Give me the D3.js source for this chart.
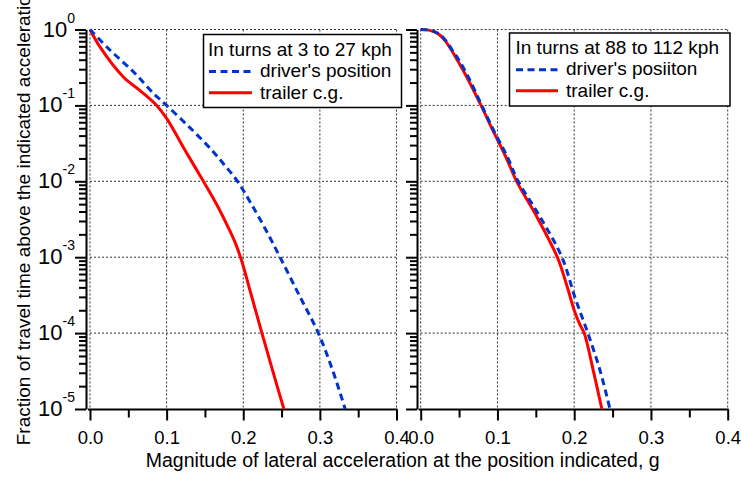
<!DOCTYPE html>
<html><head><meta charset="utf-8">
<script src="https://cdn.jsdelivr.net/npm/d3@7"></script>
<style>
html,body{margin:0;padding:0;background:#fff;}
svg{display:block;font-family:"Liberation Sans",Arial,sans-serif;}
</style></head>
<body><svg id="c" width="741" height="477"></svg>
<script>
// ---------- data ----------
const xTicks = [0, 0.1, 0.2, 0.3, 0.4];
const xMinorTicks = [0.05, 0.15, 0.25, 0.35];
const yTicks = [1, 1e-1, 1e-2, 1e-3, 1e-4, 1e-5];
const yTickExponents = ["0", "-1", "-2", "-3", "-4", "-5"];

// left panel: turns at 3 to 27 kph
const lowG_driver = [0, 0.026, 0.057, 0.083, 0.1, 0.13, 0.159, 0.176, 0.1925, 0.21, 0.229, 0.248, 0.273, 0.298, 0.317, 0.333];
const lowV_driver = [1, 0.537, 0.275, 0.143, 0.1, 0.0513, 0.0257, 0.0162, 0.01, 0.00513, 0.00234, 0.001, 3.16e-4, 1e-4, 3.16e-5, 1e-5];
const lowG_trailer = [0, 0.013, 0.0435, 0.065, 0.087, 0.1, 0.124, 0.148, 0.165, 0.18, 0.19, 0.198, 0.21, 0.223, 0.238, 0.253];
const lowV_trailer = [1, 0.589, 0.237, 0.158, 0.1, 0.0676, 0.0257, 0.01, 0.00501, 0.00251, 0.00151, 8.9e-4, 3.3e-4, 1.12e-4, 3.3e-5, 1e-5];

// right panel: turns at 88 to 112 kph
const highG_driver = [0, 0.009, 0.017, 0.025, 0.033, 0.041, 0.049, 0.062, 0.0795, 0.096, 0.113, 0.127, 0.155, 0.184, 0.201, 0.2178, 0.2336, 0.2466];
const highV_driver = [1, 0.9886, 0.944, 0.861, 0.708, 0.537, 0.407, 0.237, 0.1, 0.0447, 0.0209, 0.01, 0.00347, 0.001, 2.95e-4, 1e-4, 3.24e-5, 1e-5];
const highG_trailer = [0, 0.008, 0.016, 0.024, 0.032, 0.04, 0.047, 0.06, 0.0786, 0.095, 0.111, 0.125, 0.152, 0.178, 0.19, 0.2, 0.207, 0.213, 0.225, 0.236];
const highV_trailer = [1, 0.9886, 0.944, 0.861, 0.708, 0.537, 0.407, 0.237, 0.1, 0.0447, 0.0209, 0.01, 0.00331, 0.001, 4.37e-4, 2e-4, 1.32e-4, 1e-4, 3.16e-5, 1e-5];

const legendLow = ["In turns at 3 to 27 kph", "driver's position", "trailer c.g."];
const legendHigh = ["In turns at 88 to 112 kph", "driver's posiiton", "trailer c.g."];
const xTitle = "Magnitude of lateral acceleration at the position indicated, g";
const yTitle = "Fraction of travel time above the indicated acceleration";

// ---------- drawing ----------
const svg = d3.select("#c");
const BLUE = "#0033cc", RED = "#ff0000";
const yTop = 29.5, yBot = 409;
const y = d3.scaleLog().domain([1e-5, 1]).range([yBot, yTop]);

const minorY = [];
for (let e = -5; e < 0; e++) for (let m = 2; m <= 9; m++) minorY.push(m * Math.pow(10, e));

function zip(g, v) { return g.map((d, i) => [d, v[i]]); }

function panel(x, axisX, driver, trailer, legend, box, labelsY) {
  const g = svg.append("g");
  // grid
  g.selectAll(".gv").data(xTicks).join("line")
    .attr("x1", d => x(d)).attr("x2", d => x(d)).attr("y1", yTop).attr("y2", yBot)
    .attr("stroke", "#333").attr("stroke-width", 1).attr("stroke-dasharray", "2,2");
  g.selectAll(".gh").data(yTicks.slice(0, 5)).join("line")
    .attr("x1", x(0)).attr("x2", x(0.4)).attr("y1", d => y(d)).attr("y2", d => y(d))
    .attr("stroke", "#333").attr("stroke-width", 1).attr("stroke-dasharray", "2,2");

  // y axis (major + minor)
  const ya = g.append("g").attr("transform", `translate(${axisX},0)`)
    .call(d3.axisLeft(y).tickValues(yTicks).tickSize(11).tickSizeOuter(0).tickFormat(""));
  const ym = g.append("g").attr("transform", `translate(${axisX},0)`)
    .call(d3.axisLeft(y).tickValues(minorY).tickSize(7).tickSizeOuter(0).tickFormat(""));
  // x axis
  const xa = g.append("g").attr("transform", `translate(0,${yBot + 0.5})`)
    .call(d3.axisBottom(x).tickValues(xTicks).tickSize(11).tickSizeOuter(0).tickPadding(10).tickFormat(d3.format(".1f")));
  const xm = g.append("g").attr("transform", `translate(0,${yBot + 0.5})`)
    .call(d3.axisBottom(x).tickValues(xMinorTicks).tickSize(8).tickSizeOuter(0).tickFormat(""));
  [ya, ym, xa, xm].forEach(a => {
    a.selectAll("line").attr("stroke", "#000").attr("stroke-width", 2);
    a.select(".domain").attr("stroke", "#000").attr("stroke-width", 2);
    a.selectAll("text").attr("font-size", 18.5).attr("fill", "#000")
      .attr("font-family", "Liberation Sans, Arial, sans-serif");
  });
  xa.select(".domain").attr("d", `M${x(0) - 2},0H${x(0.4) + 1}`);
  xm.select(".domain").remove();
  ym.select(".domain").remove();

  if (labelsY) {
    const t = g.selectAll(".yl").data(yTicks).join("text")
      .attr("x", axisX - 11).attr("y", d => y(d) + 7)
      .attr("text-anchor", "end").attr("font-size", 22).attr("fill", "#000");
    t.append("tspan").text("10");
    t.append("tspan").attr("font-size", 14).attr("dy", -14).text((d, i) => yTickExponents[i]);
  }

  // curves
  const line = d3.line().x(d => x(d[0])).y(d => y(d[1])).curve(d3.curveCatmullRom.alpha(0.5));
  g.append("path").attr("d", line(trailer)).attr("fill", "none")
    .attr("stroke", RED).attr("stroke-width", 3);
  g.append("path").attr("d", line(driver)).attr("fill", "none")
    .attr("stroke", BLUE).attr("stroke-width", 3).attr("stroke-dasharray", "7,4.5");

  // legend
  const L = g.append("g");
  L.append("rect").attr("x", box.x).attr("y", box.y).attr("width", box.w).attr("height", box.h)
    .attr("fill", "#fff").attr("stroke", "#000").attr("stroke-width", 1.5);
  L.append("text").attr("x", box.tx).attr("y", box.b1).attr("font-size", 19).text(legend[0]);
  L.append("line").attr("x1", box.lx1).attr("x2", box.lx2).attr("y1", box.b2 - 5.5).attr("y2", box.b2 - 5.5)
    .attr("stroke", BLUE).attr("stroke-width", 3).attr("stroke-dasharray", "7,4.5");
  L.append("text").attr("x", box.tx2).attr("y", box.b2).attr("font-size", 19).text(legend[1]);
  L.append("line").attr("x1", box.lx1).attr("x2", box.lx2).attr("y1", box.b3 - 6).attr("y2", box.b3 - 6)
    .attr("stroke", RED).attr("stroke-width", 3);
  L.append("text").attr("x", box.tx2).attr("y", box.b3).attr("font-size", 19).text(legend[2]);
}

const xLeft = d3.scaleLinear().domain([0, 0.4]).range([90, 396.5]);
const xRight = d3.scaleLinear().domain([0, 0.4]).range([420.7, 727.7]);

panel(xLeft, 86, zip(lowG_driver, lowV_driver), zip(lowG_trailer, lowV_trailer), legendLow,
  {x: 203.5, y: 34.5, w: 198, h: 73, tx: 208, b1: 55.7, b2: 77, b3: 98.7, lx1: 209, lx2: 252, tx2: 260}, true);
panel(xRight, 417, zip(highG_driver, highV_driver), zip(highG_trailer, highV_trailer), legendHigh,
  {x: 509.5, y: 33, w: 220.5, h: 73, tx: 515.5, b1: 54.3, b2: 75.3, b3: 96.7, lx1: 516, lx2: 558, tx2: 566}, false);

svg.append("text").attr("x", 402.7).attr("y", 467.3).attr("text-anchor", "middle")
  .attr("font-size", 19.5).text(xTitle);
svg.append("text").attr("transform", "translate(30,215) rotate(-90)").attr("text-anchor", "middle")
  .attr("font-size", 19).text(yTitle);
</script></body></html>
